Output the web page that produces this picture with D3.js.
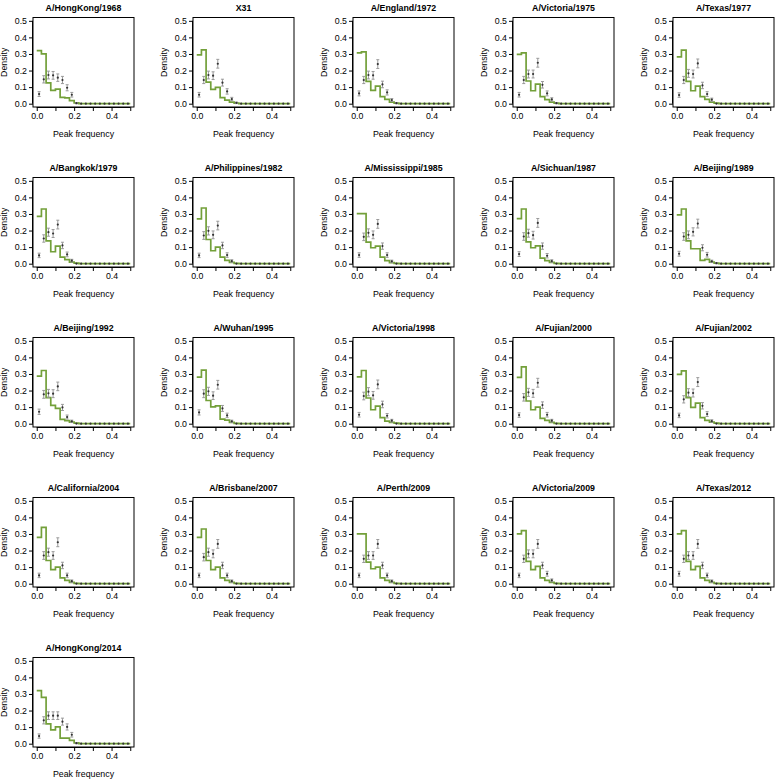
<!DOCTYPE html>
<html>
<head>
<meta charset="utf-8">
<script src="https://cdn.jsdelivr.net/npm/d3@7"></script>
<style>
  body { margin: 0; background: #fff; }
  svg text { font-family: "Liberation Sans", Arial, Helvetica, sans-serif; fill: #000; }
</style>
</head>
<body>
<svg id="chart" width="776" height="780"></svg>
<script>
// ---> Data
// strain names, one panel each
const strains = [
  "A/HongKong/1968", "X31", "A/England/1972", "A/Victoria/1975", "A/Texas/1977",
  "A/Bangkok/1979", "A/Philippines/1982", "A/Mississippi/1985", "A/Sichuan/1987", "A/Beijing/1989",
  "A/Beijing/1992", "A/Wuhan/1995", "A/Victoria/1998", "A/Fujian/2000", "A/Fujian/2002",
  "A/California/2004", "A/Brisbane/2007", "A/Perth/2009", "A/Victoria/2009", "A/Texas/2012",
  "A/HongKong/2014"
];

// bins of width 0.025 from 0 to 0.5; bins not listed are zero
const binWidth = 0.025;
const nBins = 20;

// model density (green step line), per strain
const modelDensity = [
  [0.320, 0.300, 0.125, 0.080, 0.088, 0.038, 0.035, 0.018, 0.005],
  [0.295, 0.325, 0.130, 0.086, 0.098, 0.036, 0.022, 0.010, 0.003],
  [0.307, 0.313, 0.135, 0.080, 0.106, 0.042, 0.026, 0.010, 0.003],
  [0.297, 0.307, 0.137, 0.078, 0.118, 0.042, 0.024, 0.010, 0.003],
  [0.283, 0.323, 0.135, 0.078, 0.106, 0.042, 0.026, 0.010, 0.003],
  [0.286, 0.330, 0.138, 0.072, 0.106, 0.040, 0.024, 0.010, 0.003],
  [0.270, 0.336, 0.146, 0.078, 0.100, 0.040, 0.020, 0.008, 0.002],
  [0.302, 0.302, 0.130, 0.096, 0.106, 0.040, 0.018, 0.006, 0.002],
  [0.272, 0.330, 0.132, 0.096, 0.108, 0.034, 0.018, 0.008, 0.002],
  [0.294, 0.330, 0.138, 0.090, 0.090, 0.020, 0.026, 0.010, 0.003],
  [0.287, 0.321, 0.157, 0.110, 0.092, 0.026, 0.018, 0.010, 0.003],
  [0.281, 0.323, 0.140, 0.102, 0.108, 0.028, 0.022, 0.008, 0.002],
  [0.283, 0.321, 0.155, 0.084, 0.106, 0.036, 0.016, 0.008, 0.003],
  [0.279, 0.343, 0.137, 0.084, 0.100, 0.032, 0.020, 0.008, 0.002],
  [0.297, 0.319, 0.157, 0.098, 0.124, 0.036, 0.020, 0.010, 0.003],
  [0.280, 0.340, 0.140, 0.085, 0.100, 0.035, 0.020, 0.008, 0.002],
  [0.280, 0.330, 0.140, 0.085, 0.100, 0.035, 0.020, 0.008, 0.002],
  [0.300, 0.300, 0.130, 0.090, 0.100, 0.035, 0.020, 0.008, 0.002],
  [0.300, 0.320, 0.135, 0.085, 0.105, 0.035, 0.020, 0.008, 0.002],
  [0.300, 0.320, 0.135, 0.085, 0.105, 0.035, 0.020, 0.008, 0.002],
  [0.320, 0.280, 0.119, 0.083, 0.101, 0.034, 0.034, 0.020, 0.005]
];

// observed peak frequencies (points with error bars), per strain
const observed = [
  [0.058, 0.147, 0.173, 0.171, 0.157, 0.143, 0.096, 0.054, 0.003],
  [0.054, 0.143, 0.173, 0.169, 0.241, 0.127, 0.074, 0.028, 0.005],
  [0.062, 0.143, 0.173, 0.171, 0.239, 0.116, 0.068, 0.022, 0.003],
  [0.054, 0.143, 0.179, 0.179, 0.247, 0.114, 0.062, 0.026, 0.003],
  [0.052, 0.143, 0.183, 0.179, 0.243, 0.110, 0.058, 0.024],
  [0.050, 0.152, 0.190, 0.182, 0.236, 0.110, 0.056, 0.018],
  [0.050, 0.170, 0.198, 0.174, 0.230, 0.110, 0.052, 0.016],
  [0.052, 0.162, 0.186, 0.174, 0.240, 0.106, 0.052, 0.014],
  [0.058, 0.164, 0.184, 0.172, 0.246, 0.106, 0.048, 0.016],
  [0.060, 0.164, 0.174, 0.192, 0.242, 0.096, 0.054, 0.014, 0.003],
  [0.072, 0.177, 0.183, 0.181, 0.225, 0.098, 0.040, 0.014],
  [0.068, 0.181, 0.195, 0.169, 0.235, 0.092, 0.050, 0.014],
  [0.054, 0.167, 0.193, 0.171, 0.237, 0.116, 0.048, 0.018],
  [0.052, 0.159, 0.189, 0.183, 0.247, 0.112, 0.054, 0.018],
  [0.050, 0.147, 0.187, 0.185, 0.251, 0.108, 0.058, 0.016],
  [0.050, 0.170, 0.190, 0.170, 0.250, 0.110, 0.050, 0.015],
  [0.050, 0.160, 0.190, 0.180, 0.240, 0.110, 0.050, 0.015],
  [0.050, 0.150, 0.170, 0.170, 0.240, 0.110, 0.050, 0.015],
  [0.050, 0.150, 0.180, 0.180, 0.240, 0.110, 0.060, 0.020],
  [0.060, 0.150, 0.170, 0.170, 0.240, 0.110, 0.050, 0.015],
  [0.046, 0.141, 0.169, 0.169, 0.169, 0.133, 0.101, 0.054, 0.003]
];

// sample size behind each observed frequency (for the 95% binomial interval)
const sampleSize = 1000;

const xTicks = [0, 0.1, 0.2, 0.3, 0.4, 0.5];
const xTickLabels = ["0.0", "", "0.2", "", "0.4", ""];
const yTicks = [0, 0.1, 0.2, 0.3, 0.4, 0.5];

// ---> Layout
const panelSize = 160;
const nCols = 5;
const box = {left: 33, right: 134, top: 17.5, bottom: 107};
const green = '#73a03a';
const fontSize = 8.8;

const x = d3.scaleLinear().domain([-0.02, 0.52]).range([box.left, box.right]);
const y = d3.scaleLinear().domain([-0.02, 0.52]).range([box.bottom, box.top]);

const svg = d3.select("#chart");

function padBins(arr) {
    const out = arr.slice();
    while (out.length < nBins) out.push(0);
    return out;
}

const stepLine = d3.line()
    .x((d) => x(d[0]))
    .y((d) => y(d[1]))
    .curve(d3.curveStepAfter);

strains.forEach((name, i) => {
    const col = i % nCols;
    const row = Math.floor(i / nCols);
    const g = svg.append("g")
        .attr("transform", "translate(" + (col * panelSize) + "," + (row * panelSize) + ")");

    const model = padBins(modelDensity[i]);
    const obs = padBins(observed[i]);

    // step line of model density
    const steps = model.map((v, k) => [k * binWidth, v]);
    steps.push([nBins * binWidth, model[nBins - 1]]);
    g.append("path")
        .datum(steps)
        .attr("d", stepLine)
        .attr("fill", "none")
        .attr("stroke", green)
        .attr("stroke-width", 1.7);

    // observed points with error bars
    const pts = obs.map((v, k) => ({
        x: (k + 0.5) * binWidth,
        v: v,
        err: 1.96 * Math.sqrt(v * (1 - v) / sampleSize)
    }));
    const bars = g.append("g").attr("stroke", "#9a9a9a").attr("stroke-width", 1);
    pts.forEach((p) => {
        if (p.err <= 0) return;
        const px = x(p.x);
        bars.append("line")
            .attr("x1", px).attr("x2", px)
            .attr("y1", y(p.v - p.err)).attr("y2", y(p.v + p.err));
        bars.append("line")
            .attr("x1", px - 1.5).attr("x2", px + 1.5)
            .attr("y1", y(p.v - p.err)).attr("y2", y(p.v - p.err));
        bars.append("line")
            .attr("x1", px - 1.5).attr("x2", px + 1.5)
            .attr("y1", y(p.v + p.err)).attr("y2", y(p.v + p.err));
    });
    g.append("g")
        .selectAll("circle")
        .data(pts)
        .enter()
        .append("circle")
        .attr("cx", (d) => x(d.x))
        .attr("cy", (d) => y(d.v))
        .attr("r", 1.1)
        .attr("fill", "#333");

    // frame
    g.append("rect")
        .attr("x", box.left).attr("y", box.top)
        .attr("width", box.right - box.left).attr("height", box.bottom - box.top)
        .attr("fill", "none").attr("stroke", "#000").attr("stroke-width", 1);

    // x axis
    const xAxis = d3.axisBottom(x)
        .tickValues(xTicks)
        .tickSize(4)
        .tickPadding(2)
        .tickFormat((d, k) => xTickLabels[k]);
    const xg = g.append("g")
        .attr("transform", "translate(0," + box.bottom + ")")
        .call(xAxis);
    xg.select(".domain").attr("d", "M" + x(0) + ",0.5H" + x(0.5));

    // y axis
    const yAxis = d3.axisLeft(y)
        .tickValues(yTicks)
        .tickSize(4)
        .tickPadding(2)
        .tickFormat(d3.format(".1f"));
    const yg = g.append("g")
        .attr("transform", "translate(" + box.left + ",0)")
        .call(yAxis);
    yg.select(".domain").attr("d", "M-0.5," + y(0) + "V" + y(0.5));

    g.selectAll(".tick text")
        .style("font-size", fontSize + "px")
        .style("font-family", '"Liberation Sans", Arial, sans-serif');
    g.selectAll(".tick line, .domain").attr("stroke", "#000");

    // title and axis labels
    g.append("text")
        .attr("x", (box.left + box.right) / 2)
        .attr("y", 10.5)
        .attr("text-anchor", "middle")
        .style("font-size", fontSize + "px")
        .style("font-weight", "bold")
        .text(name);

    g.append("text")
        .attr("x", (box.left + box.right) / 2)
        .attr("y", 136.5)
        .attr("text-anchor", "middle")
        .style("font-size", fontSize + "px")
        .text("Peak frequency");

    g.append("text")
        .attr("transform", "translate(6.8," + ((box.top + box.bottom) / 2) + ") rotate(-90)")
        .attr("text-anchor", "middle")
        .style("font-size", fontSize + "px")
        .text("Density");
});
</script>
</body>
</html>
